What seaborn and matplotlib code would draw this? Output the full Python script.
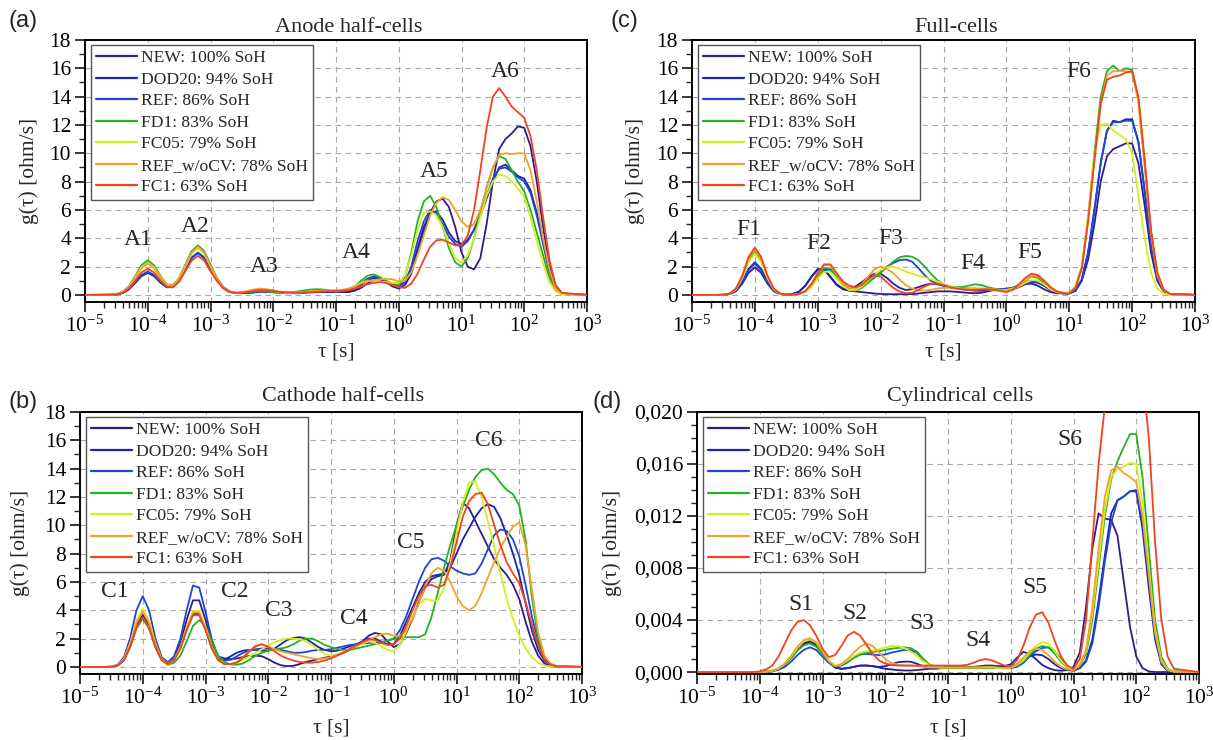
import numpy as np
import pandas as pd
import matplotlib
matplotlib.use("Agg")
import matplotlib.pyplot as plt
import seaborn as sns
from matplotlib.lines import Line2D
from matplotlib.ticker import LogLocator, MultipleLocator, NullFormatter

# ---------------- data ----------------
log_tau = [-5.0, -4.6, -4.5, -4.4, -4.3, -4.2, -4.1, -4.0, -3.9, -3.8,
           -3.7, -3.6, -3.5, -3.4, -3.3, -3.2, -3.1, -3.0, -2.9, -2.8,
           -2.7, -2.6, -2.5, -2.4, -2.3, -2.2, -2.1, -2.0, -1.9, -1.8,
           -1.7, -1.6, -1.5, -1.4, -1.3, -1.2, -1.1, -1.0, -0.9, -0.8,
           -0.7, -0.6, -0.5, -0.4, -0.3, -0.2, -0.1, 0.0, 0.1, 0.2,
           0.3, 0.4, 0.5, 0.6, 0.7, 0.8, 0.9, 1.0, 1.1, 1.2,
           1.3, 1.4, 1.5, 1.6, 1.7, 1.8, 1.9, 2.0, 2.1, 2.2,
           2.3, 2.4, 2.5, 2.6, 3.0]

series_labels = ["NEW: 100% SoH", "DOD20: 94% SoH", "REF: 86% SoH", "FD1: 83% SoH",
                 "FC05: 79% SoH", "REF_w/oCV: 78% SoH", "FC1: 63% SoH"]
series_colors = ["#2f1b8c", "#1b25a6", "#1f45d6", "#22b322", "#d6ee1c", "#f6a12a", "#f2421e"]

# (a) Anode half-cells
a_new = [0, .01, .03, .13, .39, .84, 1.33, 1.55, 1.33, .87,
         .54, .6, 1.15, 2.1, 3.05, 3.45, 3.05, 2.1, 1.2, .57,
         .25, .14, .12, .13, .18, .25, .28, .25, .2, .15,
         .12, .12, .15, .18, .2, .22, .22, .22, .2, .2,
         .3, .5, .8, 1.05, 1.1, .9, .6, .45, .7, 1.5,
         3.0, 4.5, 5.8, 6.6, 6.8, 6.2, 4.8, 3.0, 2.0, 1.8,
         2.6, 5.0, 8.0, 10.3, 11.0, 11.4, 11.9, 11.8, 10.5, 8.0,
         4.8, 2.0, .5, .1, 0]
a_dod20 = [0, .01, .05, .2, .59, 1.27, 2.01, 2.35, 2.01, 1.3,
           .72, .6, 1.01, 1.8, 2.6, 2.95, 2.6, 1.79, 1.06, .5,
           .23, .13, .12, .15, .2, .25, .25, .22, .18, .15,
           .15, .18, .2, .2, .2, .2, .22, .22, .22, .25,
           .4, .7, 1.0, 1.2, 1.15, .95, .75, .65, .9, 1.8,
           3.3, 4.8, 5.8, 5.9, 5.3, 4.4, 3.8, 3.6, 3.9, 4.6,
           5.6, 6.8, 8.0, 9.0, 9.2, 8.8, 8.4, 8.2, 7.4, 5.8,
           3.8, 1.7, .45, .1, 0]
a_ref = [0, .01, .03, .14, .41, .89, 1.41, 1.65, 1.41, .92,
         .54, .55, .99, 1.83, 2.65, 3.0, 2.65, 1.82, 1.08, .5,
         .23, .13, .15, .2, .22, .22, .2, .18, .15, .12,
         .12, .15, .2, .25, .25, .25, .25, .25, .25, .3,
         .45, .8, 1.15, 1.3, 1.2, .95, .7, .6, .9, 2.0,
         3.8, 5.2, 6.0, 5.8, 5.0, 4.1, 3.6, 3.4, 3.8, 4.6,
         5.7, 7.0, 8.2, 8.9, 9.0, 8.7, 8.3, 8.0, 7.2, 5.6,
         3.6, 1.6, .4, .1, 0]
a_fd1 = [0, .01, .05, .21, .61, 1.32, 2.1, 2.45, 2.1, 1.36,
         .76, .68, 1.19, 2.13, 3.09, 3.5, 3.09, 2.12, 1.19, .52,
         .22, .14, .15, .2, .25, .28, .25, .2, .15, .15,
         .2, .25, .32, .38, .4, .38, .32, .28, .3, .35,
         .6, 1.0, 1.35, 1.45, 1.25, 1.0, .8, .7, 1.3, 3.0,
         5.2, 6.6, 7.0, 6.2, 4.8, 3.3, 2.3, 2.0, 2.6, 4.0,
         5.8, 7.6, 9.0, 9.8, 9.6, 8.8, 8.0, 7.3, 6.0, 4.4,
         2.8, 1.2, .3, .05, 0]
a_fc05 = [0, .01, .05, .2, .57, 1.24, 1.97, 2.3, 1.97, 1.28,
          .72, .64, 1.12, 2.01, 2.91, 3.3, 2.91, 2.0, 1.12, .5,
          .22, .15, .18, .25, .35, .4, .38, .3, .2, .15,
          .15, .18, .22, .25, .28, .3, .3, .3, .35, .45,
          .65, .85, 1.0, 1.0, .95, .9, .85, .85, 1.4, 2.8,
          4.6, 5.8, 5.9, 5.6, 4.8, 3.6, 2.6, 2.3, 2.8, 4.0,
          5.5, 7.0, 8.0, 8.5, 8.4, 8.0, 7.5, 6.9, 5.5, 3.8,
          2.2, .9, .25, .05, 0]
a_refwo = [0, .01, .05, .19, .55, 1.19, 1.89, 2.2, 1.89, 1.22,
           .7, .65, 1.15, 2.07, 3.0, 3.4, 3.0, 2.06, 1.15, .51,
           .22, .16, .2, .3, .4, .45, .4, .32, .22, .18,
           .16, .16, .2, .25, .28, .3, .3, .3, .35, .45,
           .6, .8, .95, 1.05, 1.1, 1.15, 1.1, .95, 1.0, 1.6,
           2.8, 4.2, 5.6, 6.5, 6.9, 6.7, 6.0, 5.2, 4.8, 5.0,
           6.0, 7.5, 9.0, 9.9, 10.0, 9.95, 10.0, 10.0, 8.8, 6.6,
           4.0, 1.8, .45, .1, 0]
a_fc1 = [0, .01, .04, .16, .46, 1.0, 1.59, 1.85, 1.59, 1.03,
         .58, .53, .93, 1.68, 2.43, 2.75, 2.43, 1.67, .99, .47,
         .22, .15, .16, .22, .3, .35, .33, .28, .22, .18,
         .16, .16, .18, .2, .22, .25, .28, .3, .3, .35,
         .45, .6, .75, .85, .9, .85, .7, .55, .5, .8,
         1.5, 2.5, 3.4, 3.85, 3.9, 3.7, 3.5, 3.5, 4.2, 6.0,
         8.8, 11.8, 14.0, 14.6, 14.0, 13.3, 12.9, 12.5, 11.2, 8.8,
         5.5, 2.5, .7, .15, 0]

# (b) Cathode half-cells
b_new = [0, 0, .01, .11, .5, 1.52, 2.96, 3.7, 2.96, 1.52,
         .52, .25, .6, 1.67, 3.33, 4.7, 4.7, 3.33, 1.7, .75,
         .6, .55, .6, .7, .78, .8, .75, .55, .3, .12,
         .05, .08, .2, .35, .45, .55, .65, .75, .85, 1.0,
         1.2, 1.5, 1.8, 2.2, 2.4, 2.3, 1.8, 1.4, 1.6, 2.4,
         3.4, 4.6, 5.6, 6.2, 6.4, 6.5, 7.5, 10.0, 11.6, 11.2,
         10.3, 9.4, 8.5, 7.6, 7.0, 6.5, 5.8, 4.8, 3.2, 1.8,
         .8, .25, .06, .01, 0]
b_dod20 = [0, 0, .01, .1, .49, 1.48, 2.88, 3.6, 2.88, 1.48,
           .51, .22, .5, 1.33, 2.65, 3.74, 3.74, 2.65, 1.35, .55,
           .5, .75, 1.0, 1.15, 1.2, 1.2, 1.15, 1.15, 1.3, 1.6,
           1.9, 2.05, 2.1, 2.0, 1.7, 1.4, 1.2, 1.1, 1.15, 1.3,
           1.45, 1.6, 1.8, 2.0, 2.0, 1.8, 1.6, 1.6, 2.2, 3.2,
           4.2, 5.2, 6.0, 6.4, 6.5, 6.6, 7.0, 8.0, 9.0, 9.8,
           10.6, 11.2, 11.5, 11.3, 10.5, 9.3, 8.0, 6.5, 4.5, 2.6,
           1.2, .45, .12, .02, 0]
b_ref = [0, 0, .02, .15, .68, 2.05, 4.0, 5.0, 4.0, 2.05,
         .7, .33, .75, 2.0, 4.0, 5.75, 5.6, 3.9, 1.95, .75,
         .45, .5, .75, 1.0, 1.15, 1.25, 1.3, 1.3, 1.25, 1.2,
         1.1, 1.0, 1.0, 1.05, 1.15, 1.2, 1.2, 1.25, 1.35, 1.45,
         1.55, 1.6, 1.65, 1.7, 1.7, 1.75, 1.85, 2.0, 2.6, 3.6,
         4.8, 6.0, 7.0, 7.6, 7.7, 7.5, 7.1, 6.8, 6.6, 6.5,
         6.6, 7.3, 8.3, 9.3, 9.7, 9.6, 9.0, 7.8, 5.8, 3.6,
         1.8, .7, .2, .04, 0]
b_fd1 = [0, 0, .01, .1, .46, 1.39, 2.72, 3.4, 2.72, 1.39,
         .47, .15, .3, .8, 1.8, 2.9, 3.3, 2.9, 1.8, .8,
         .35, .18, .15, .25, .5, .8, 1.0, 1.15, 1.25, 1.3,
         1.4, 1.6, 1.85, 2.0, 2.0, 1.8, 1.55, 1.4, 1.25, 1.2,
         1.2, 1.3, 1.4, 1.5, 1.6, 1.7, 1.85, 2.0, 2.1, 2.1,
         2.1, 2.1, 2.3, 3.5, 5.2, 7.0, 8.6, 10.0, 11.3, 12.5,
         13.4, 13.9, 14.0, 13.6, 13.0, 12.5, 12.2, 11.4, 9.0, 5.0,
         2.0, .6, .15, .03, 0]
b_fc05 = [0, 0, .02, .12, .55, 1.68, 3.28, 4.1, 3.28, 1.68,
          .57, .2, .5, 1.4, 2.8, 3.95, 3.95, 2.8, 1.4, .5,
          .2, .2, .3, .5, .75, 1.0, 1.25, 1.5, 1.75, 1.9,
          2.0, 2.0, 1.95, 1.8, 1.55, 1.2, .9, .8, .9, 1.05,
          1.25, 1.45, 1.65, 1.8, 1.7, 1.45, 1.2, 1.1, 1.6, 2.5,
          3.6, 4.4, 4.8, 4.7, 4.7, 5.5, 7.3, 9.5, 11.6, 13.0,
          13.1, 12.0, 10.3, 8.5, 6.6, 4.8, 3.4, 2.2, 1.3, .7,
          .3, .1, .03, .01, 0]
b_refwo = [0, 0, .02, .11, .53, 1.6, 3.12, 3.9, 3.12, 1.6,
           .53, .2, .5, 1.36, 2.72, 3.85, 3.85, 2.72, 1.36, .5,
           .2, .2, .35, .7, 1.15, 1.5, 1.6, 1.45, 1.25, 1.1,
           1.0, .9, .8, .7, .6, .55, .6, .7, .85, 1.05,
           1.3, 1.5, 1.7, 1.9, 2.1, 2.3, 2.35, 2.2, 2.2, 2.6,
           3.4, 4.5, 5.7, 6.6, 7.0, 6.8, 6.0, 5.0, 4.3, 4.0,
           4.3, 5.2, 6.3, 7.4, 8.4, 9.2, 9.9, 10.2, 8.6, 5.5,
           2.5, .8, .2, .04, 0]
b_fc1 = [0, 0, .01, .1, .47, 1.44, 2.8, 3.5, 2.8, 1.44,
         .5, .2, .48, 1.3, 2.6, 3.65, 3.65, 2.6, 1.3, .48,
         .2, .2, .3, .65, 1.1, 1.45, 1.6, 1.4, 1.1, .8,
         .6, .45, .35, .3, .3, .35, .45, .6, .8, 1.0,
         1.25, 1.5, 1.75, 1.95, 1.9, 1.7, 1.55, 1.6, 2.0, 2.9,
         4.0, 5.0, 5.7, 5.8, 5.6, 5.8, 7.0, 8.8, 10.6, 11.7,
         12.2, 12.3, 11.5, 10.0, 8.6, 7.4, 6.6, 5.9, 4.6, 3.0,
         1.5, .55, .15, .03, 0]

# (c) Full-cells
c_new = [0, 0, .01, .06, .26, .8, 1.56, 1.95, 1.56, .8,
         .26, .06, .02, .06, .22, .63, 1.26, 1.78, 1.78, 1.26,
         .7, .4, .3, .25, .2, .15, .1, .07, .05, .05,
         .05, .05, .06, .1, .15, .2, .25, .25, .25, .22,
         .18, .14, .12, .15, .25, .35, .4, .4, .4, .55,
         .75, .8, .65, .4, .2, .12, .1, .12, .3, 1.0,
         2.5, 5.0, 8.0, 9.8, 10.3, 10.5, 10.7, 10.7, 9.3, 6.3,
         3.0, 1.0, .25, .05, 0]
c_dod20 = [0, 0, .01, .07, .31, .94, 1.84, 2.3, 1.84, .94,
           .31, .07, .02, .06, .23, .65, 1.3, 1.83, 1.83, 1.3,
           .75, .45, .45, .6, .9, 1.25, 1.5, 1.5, 1.2, .8,
           .5, .35, .4, .55, .7, .8, .75, .65, .55, .5,
           .4, .35, .3, .3, .32, .35, .38, .4, .5, .7,
           .9, 1.0, .9, .65, .35, .2, .12, .1, .3, 1.1,
           3.0, 6.0, 9.3, 11.6, 12.3, 12.2, 12.4, 12.4, 10.8, 7.3,
           3.5, 1.2, .3, .06, 0]
c_ref = [0, 0, .01, .06, .3, .9, 1.76, 2.2, 1.76, .9,
         .3, .06, .02, .01, .06, .22, .63, 1.26, 1.78, 1.78,
         1.26, .75, .5, .55, .7, .95, 1.3, 1.65, 2.0, 2.25,
         2.45, 2.5, 2.35, 1.9, 1.4, 1.0, .8, .65, .55, .5,
         .45, .45, .45, .4, .35, .35, .4, .45, .5, .65,
         .8, .9, .85, .65, .4, .2, .12, .1, .3, 1.1,
         3.0, 6.0, 9.3, 11.6, 12.2, 12.2, 12.3, 12.3, 10.8, 7.3,
         3.5, 1.2, .3, .06, 0]
c_fd1 = [0, 0, .01, .09, .42, 1.27, 2.48, 3.1, 2.48, 1.27,
         .42, .09, .02, .01, .06, .23, .66, 1.33, 1.87, 1.87,
         1.33, .7, .35, .3, .5, .85, 1.2, 1.55, 1.95, 2.35,
         2.65, 2.75, 2.7, 2.45, 2.0, 1.5, 1.05, .75, .6, .55,
         .55, .65, .75, .7, .55, .45, .38, .35, .45, .7,
         1.0, 1.3, 1.2, .85, .45, .25, .15, .15, .6, 2.0,
         5.5, 10.0, 14.0, 15.8, 16.2, 15.8, 16.0, 15.9, 13.8, 9.3,
         4.5, 1.5, .35, .06, 0]
c_fc05 = [0, 0, .01, .08, .39, 1.19, 2.32, 2.9, 2.32, 1.19,
          .39, .08, .02, .01, .05, .2, .58, 1.16, 1.63, 1.63,
          1.16, .62, .35, .35, .6, 1.0, 1.4, 1.75, 1.95, 2.0,
          1.85, 1.65, 1.5, 1.35, 1.25, 1.1, .95, .75, .6, .5,
          .42, .4, .45, .45, .4, .35, .32, .35, .45, .6,
          .85, 1.05, 1.0, .75, .4, .2, .12, .12, .6, 2.0,
          5.5, 10.0, 12.0, 12.1, 11.6, 11.3, 11.0, 10.0, 7.0, 4.0,
          1.6, .45, .1, .02, 0]
c_refwo = [0, 0, .01, .09, .43, 1.31, 2.56, 3.2, 2.56, 1.31,
           .43, .09, .02, .01, .07, .26, .75, 1.5, 2.1, 2.1,
           1.5, .8, .5, .45, .75, 1.3, 1.8, 2.0, 1.85, 1.55,
           1.1, .7, .45, .32, .3, .35, .45, .5, .5, .45,
           .42, .4, .42, .45, .45, .4, .35, .3, .4, .65,
           1.0, 1.35, 1.3, 1.0, .55, .25, .15, .12, .5, 1.9,
           5.2, 9.5, 13.5, 15.5, 15.8, 15.8, 15.8, 15.7, 13.6, 9.0,
           4.3, 1.4, .33, .06, 0]
c_fc1 = [0, 0, .01, .1, .45, 1.37, 2.68, 3.35, 2.68, 1.37,
         .45, .1, .02, .01, .07, .27, .77, 1.53, 2.16, 2.16,
         1.55, .95, .65, .55, .7, 1.1, 1.4, 1.3, .9, .5,
         .25, .12, .15, .35, .6, .78, .8, .7, .55, .45,
         .4, .35, .35, .38, .4, .35, .28, .2, .35, .75,
         1.2, 1.5, 1.4, 1.0, .55, .25, .12, .1, .5, 1.9,
         5.2, 9.5, 13.5, 15.2, 15.4, 15.5, 15.7, 15.8, 14.0, 9.5,
         4.6, 1.6, .4, .07, 0]

# (d) Cylindrical cells  [ohm/s]
d_new = [0, 0, 0, 0, 0, 0, 0, .00001, .00003, .0001,
         .00025, .0006, .0011, .0017, .00215, .0023, .00205, .00145, .0008, .00035,
         .00025, .0003, .0004, .0005, .0005, .00045, .00035, .00025, .0002, .00015,
         .00012, .00012, .00015, .0002, .00025, .0003, .00035, .0004, .00045, .00045,
         .0004, .00035, .00035, .0004, .00045, .00045, .00045, .0006, .0011, .00155,
         .0014, .001, .00055, .0003, .00015, .0001, .00015, .0004, .0015, .005,
         .0095, .0122, .0118, .0117, .0105, .007, .0035, .0012, .0003, .00005,
         0, 0, 0, 0, 0]
d_dod20 = [0, 0, 0, 0, 0, 0, 0, .00001, .00003, .0001,
           .00026, .00062, .00115, .0018, .00225, .0024, .00215, .0015, .0008, .00035,
           .00025, .0003, .0004, .0005, .0005, .00045, .0004, .00045, .0006, .00075,
           .0008, .0008, .00065, .00045, .0003, .00025, .0003, .00035, .0004, .0004,
           .0004, .0004, .00045, .0005, .0005, .00045, .0004, .0004, .0006, .0009,
           .0012, .00135, .0013, .001, .0006, .0003, .00015, .0001, .0003, .0009,
           .0025, .0055, .009, .0122, .0132, .0135, .0139, .0139, .011, .0065,
           .0025, .0006, .0001, .00002, 0]
d_ref = [0, 0, 0, 0, 0, 0, 0, 0, .00002, .00006,
         .00017, .0004, .0008, .0013, .0017, .0019, .0017, .0012, .0007, .00045,
         .0005, .00075, .0011, .00135, .0014, .00135, .0013, .00135, .0015, .0016,
         .0017, .0017, .0015, .001, .00055, .00035, .0003, .0003, .0003, .0003,
         .0003, .0003, .0003, .00035, .00035, .00035, .0003, .0003, .0004, .0007,
         .0012, .0016, .00185, .0019, .0016, .001, .00045, .0002, .0003, .0008,
         .0022, .005, .0085, .0115, .0132, .0135, .0139, .014, .0115, .007,
         .0028, .0007, .00012, .00002, 0]
d_fd1 = [0, 0, 0, 0, 0, 0, 0, .00001, .00003, .00009,
         .00024, .00057, .00105, .00165, .00205, .0022, .00195, .0014, .0008, .00045,
         .00055, .0008, .0011, .00135, .0015, .00155, .0016, .0017, .0018, .00185,
         .0019, .00185, .0016, .00105, .0006, .0004, .0003, .0003, .0003, .0003,
         .0003, .0003, .0003, .0003, .0003, .0003, .0003, .00035, .0005, .0008,
         .0013, .0018, .002, .0019, .0014, .0008, .00035, .0002, .0005, .0014,
         .004, .008, .012, .0148, .0162, .0173, .0183, .0183, .015, .0095,
         .004, .0012, .00025, .00005, 0]
d_fc05 = [0, 0, 0, 0, 0, 0, 0, .00001, .00003, .0001,
          .00027, .00065, .0012, .00185, .00235, .0025, .00225, .0016, .0009, .0005,
          .0006, .0009, .00125, .0015, .0016, .00165, .00175, .0019, .002, .002,
          .00185, .0016, .00125, .00085, .00055, .0004, .00035, .00035, .00035, .00035,
          .00035, .00035, .00035, .00035, .00035, .0003, .0003, .00035, .00055, .0009,
          .0015, .002, .0023, .0022, .0016, .0009, .0004, .0002, .0006, .0016,
          .0045, .0085, .0125, .015, .0156, .0158, .0161, .016, .013, .008,
          .0033, .0009, .0002, .00004, 0]
d_refwo = [0, 0, 0, 0, 0, 0, 0, .00001, .00003, .0001,
           .00028, .00068, .00125, .00195, .00245, .0026, .0023, .0016, .00085, .00045,
           .0006, .001, .0015, .00195, .0022, .002, .0015, .001, .0007, .00055,
           .0005, .0005, .00045, .0004, .00035, .00035, .00035, .00035, .00035, .00035,
           .00035, .00035, .00035, .0004, .0004, .00035, .0003, .00035, .0006, .0011,
           .0016, .0018, .0017, .0013, .0008, .0004, .0002, .00015, .0005, .0017,
           .005, .0095, .0135, .0155, .0158, .0153, .015, .0146, .012, .0075,
           .003, .0008, .00015, .00003, 0]
d_fc1 = [0, 0, 0, 0, 0, 0, 0, .00005, .0002, .0005,
         .0012, .0022, .0032, .00385, .004, .0036, .0028, .0018, .00115, .0013,
         .002, .0028, .0031, .0028, .0021, .0014, .0009, .00065, .00055, .0005,
         .0005, .0005, .0005, .0005, .0005, .0005, .0005, .0005, .0005, .0005,
         .00055, .0007, .0009, .001, .0009, .0007, .0005, .00045, .0009, .002,
         .0034, .0044, .0046, .0038, .0024, .0012, .0005, .00025, .001, .004,
         .01, .016, .0205, .025, .028, .029, .029, .0275, .023, .018,
         .01, .004, .0012, .00025, 0]

xtick_values = [1e-5, 1e-4, 1e-3, 1e-2, 1e-1, 1e0, 1e1, 1e2, 1e3]
xtick_labels = ["10$^{-5}$", "10$^{-4}$", "10$^{-3}$", "10$^{-2}$", "10$^{-1}$",
                "10$^{0}$", "10$^{1}$", "10$^{2}$", "10$^{3}$"]
cyl_ytick_values = [0.0, 0.004, 0.008, 0.012, 0.016, 0.020]
cyl_ytick_labels = ["0,000", "0,004", "0,008", "0,012", "0,016", "0,020"]

anode_peaks = [("A1", -4.15, 3.9), ("A2", -3.24, 4.8), ("A3", -2.15, 2.0),
               ("A4", -0.68, 3.0), ("A5", 0.56, 8.7), ("A6", 1.69, 15.8)]
full_peaks = [("F1", -4.09, 4.6), ("F2", -2.98, 3.6), ("F3", -1.84, 3.95),
              ("F4", -0.54, 2.25), ("F5", 0.37, 3.0), ("F6", 1.15, 15.8)]
cathode_peaks = [("C1", -4.44, 5.3), ("C2", -2.54, 5.3), ("C3", -1.83, 4.0),
                 ("C4", -0.63, 3.4), ("C5", 0.27, 8.8), ("C6", 1.51, 16.0)]
cyl_peaks = [("S1", -3.34, 0.0052), ("S2", -2.48, 0.0045), ("S3", -1.41, 0.0037),
             ("S4", -0.52, 0.0024), ("S5", 0.39, 0.0065), ("S6", 0.95, 0.0179)]

# ---------------- style ----------------
sns.set_theme(style="white")
plt.rcParams.update({
    "font.family": ["Liberation Serif", "DejaVu Serif"],
    "mathtext.fontset": "custom",
    "mathtext.rm": "Liberation Serif",
    "mathtext.it": "Liberation Serif:italic",
    "mathtext.bf": "Liberation Serif:bold",
    "axes.edgecolor": "black",
    "lines.solid_joinstyle": "round",
})

W, H = 1213, 740
fig = plt.figure(figsize=(W / 100, H / 100), dpi=100)


def rect(l, t, r, b):
    return [l / W, 1 - b / H, (r - l) / W, (b - t) / H]


panels = [
    dict(letter="(a)", lpos=(9, 21), rect=rect(85, 40, 587, 302), title="Anode half-cells",
         tpad=5.5, vals=[a_new, a_dod20, a_ref, a_fd1, a_fc05, a_refwo, a_fc1],
         peaks=anode_peaks, cyl=False, ylab_x=-0.092, xlab_y=-0.155),
    dict(letter="(c)", lpos=(610, 21), rect=rect(692, 40, 1195, 302), title="Full-cells",
         tpad=5.5, vals=[c_new, c_dod20, c_ref, c_fd1, c_fc05, c_refwo, c_fc1],
         peaks=full_peaks, cyl=False, ylab_x=-0.094, xlab_y=-0.155),
    dict(letter="(b)", lpos=(8, 402), rect=rect(80, 412, 582, 674), title="Cathode half-cells",
         tpad=8, vals=[b_new, b_dod20, b_ref, b_fd1, b_fc05, b_refwo, b_fc1],
         peaks=cathode_peaks, cyl=False, ylab_x=-0.100, xlab_y=-0.168),
    dict(letter="(d)", lpos=(592, 402), rect=rect(697, 412, 1199, 674), title="Cylindrical cells",
         tpad=8, vals=[d_new, d_dod20, d_ref, d_fd1, d_fc05, d_refwo, d_fc1],
         peaks=cyl_peaks, cyl=True, ylab_x=-0.150, xlab_y=-0.168),
]

tau = [10 ** v for v in log_tau]

for p in panels:
    ax = fig.add_axes(p["rect"])
    ax.set_xscale("log")
    frames = []
    for lab, vals in zip(series_labels, p["vals"]):
        frames.append(pd.DataFrame({"tau": tau, "g": vals, "series": lab}))
    df = pd.concat(frames, ignore_index=True)
    sns.lineplot(data=df, x="tau", y="g", hue="series", hue_order=series_labels,
                 palette=series_colors, estimator=None, sort=False, linewidth=1.3,
                 ax=ax, legend=False, zorder=3)

    ax.set_xlim(1e-5, 1e3)
    ax.set_xticks(xtick_values)
    ax.set_xticklabels(xtick_labels)
    ax.xaxis.set_minor_locator(LogLocator(base=10, subs=np.arange(2, 10), numticks=100))
    ax.xaxis.set_minor_formatter(NullFormatter())
    if p["cyl"]:
        ax.set_ylim(-0.00015, 0.020)
        ax.set_yticks(cyl_ytick_values)
        ax.set_yticklabels(cyl_ytick_labels)
        ax.yaxis.set_minor_locator(MultipleLocator(0.001))
    else:
        ax.set_ylim(-0.5, 18)
        ax.yaxis.set_major_locator(MultipleLocator(2))
        ax.yaxis.set_minor_locator(MultipleLocator(1))

    ax.tick_params(which="major", direction="out", length=7, width=1.1, labelsize=15.5,
                   bottom=True, left=True, top=False, right=False, pad=3, colors="black")
    ax.tick_params(which="minor", direction="out", length=4, width=1.0,
                   bottom=True, left=True, top=False, right=False)
    ax.grid(True, which="major", color="#a8a8a8", linestyle=(0, (5, 4)), linewidth=0.8)
    ax.set_axisbelow(True)
    for sp in ax.spines.values():
        sp.set_color("black")
        sp.set_linewidth(1.4)

    ax.set_title(p["title"], fontsize=16, pad=p["tpad"], x=0.525)
    ax.set_xlabel("τ [s]", fontsize=15.5)
    ax.set_ylabel("g(τ) [ohm/s]", fontsize=15.5)
    ax.yaxis.set_label_coords(p["ylab_x"], 0.5)
    ax.xaxis.set_label_coords(0.5, p["xlab_y"])

    for name, lx, ly in p["peaks"]:
        ax.text(10 ** lx, ly, name, fontsize=17, ha="center", va="center", zorder=5)

    handles = [Line2D([], [], color=c, linewidth=1.6) for c in series_colors]
    leg = ax.legend(handles, series_labels, loc="upper left", bbox_to_anchor=(0.012, 0.982),
                    fontsize=12.6, frameon=True, fancybox=False, framealpha=1,
                    edgecolor="#555555", borderpad=0.3, labelspacing=0.3,
                    handlelength=2.3, handletextpad=0.25, borderaxespad=0)
    leg.get_frame().set_linewidth(1.0)
    leg.set_zorder(6)

    fig.text(p["lpos"][0] / W, 1 - p["lpos"][1] / H, p["letter"], family="Liberation Sans",
             fontsize=17, ha="left", va="center")

fig.savefig("out.png", dpi=100)
